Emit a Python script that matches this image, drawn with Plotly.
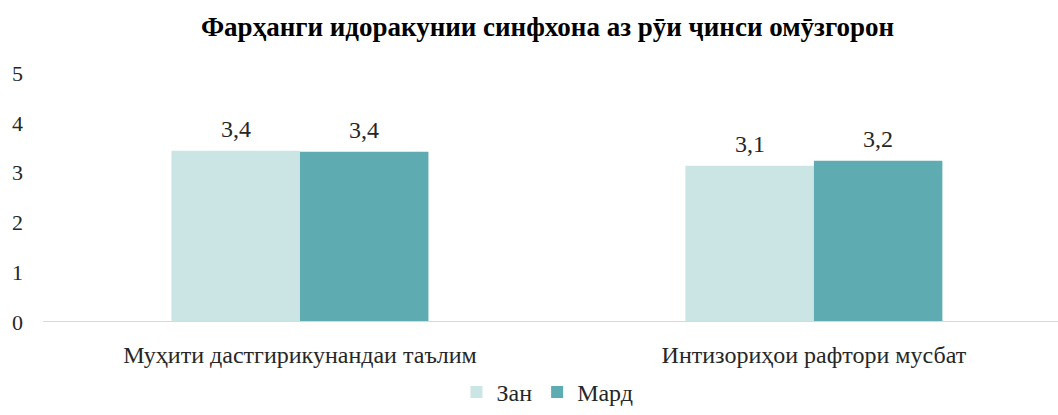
import plotly.graph_objects as go

# Categories and series values
categories = ["Муҳити дастгирикунандаи таълим", "Интизориҳои рафтори мусбат"]
series_names = ["Зан", "Мард"]
values_zan = [3.44, 3.14]
values_mard = [3.42, 3.24]
y_ticks = [0, 1, 2, 3, 4, 5]

colors = ["#cbe5e5", "#5eabb2"]
font_family = "Liberation Serif"
text_color = "#262626"
bar_w = 0.25
x_idx = list(range(len(categories)))

fig = go.Figure()
for name, vals, col, shift in [(series_names[0], values_zan, colors[0], -bar_w / 2),
                               (series_names[1], values_mard, colors[1], bar_w / 2)]:
    fig.add_trace(go.Bar(
        x=x_idx, y=vals, name=name, marker=dict(color=col, line=dict(width=0)),
        width=bar_w, offset=shift - bar_w / 2,
        hoverinfo="skip",
    ))
    # value labels above each bar, decimal comma
    for xi, v in zip(x_idx, vals):
        fig.add_annotation(
            x=xi + shift, y=v, xref="x", yref="y",
            text=f"{v:.1f}".replace(".", ","), showarrow=False,
            yanchor="bottom", yshift=7,
            font=dict(family=font_family, size=24, color=text_color),
        )

fig.update_layout(
    width=1058, height=415,
    margin=dict(l=43, r=0, t=73, b=93, autoexpand=False),
    paper_bgcolor="white", plot_bgcolor="white",
    title=dict(text="<b>Фарҳанги идоракунии синфхона аз рӯи ҷинси омӯзгорон</b>",
               x=0.5175, xanchor="center", y=0.935, yanchor="middle",
               font=dict(family=font_family, size=27, color="#000000")),
    font=dict(family=font_family, size=24, color=text_color),
    barmode="overlay",
    showlegend=True,
    legend=dict(orientation="h", x=0.497, xanchor="center",
                yref="container", y=-0.012, yanchor="bottom",
                font=dict(family=font_family, size=24, color=text_color),
                itemwidth=30, tracegroupgap=0,
                bgcolor="rgba(0,0,0,0)"),
    xaxis=dict(range=[-0.5, 1.475], tickvals=x_idx, ticktext=categories,
               showgrid=False, zeroline=False, showline=False,
               ticks="outside", ticklen=11, tickcolor="rgba(0,0,0,0)",
               tickfont=dict(family=font_family, size=24, color=text_color)),
    yaxis=dict(range=[0, 5], tickvals=y_ticks, showgrid=False, zeroline=False,
               showline=False, ticks="", ticklabelstandoff=19,
               tickfont=dict(family=font_family, size=22, color=text_color)),
    shapes=[dict(type="line", xref="paper", yref="y", x0=0, x1=1, y0=0, y1=0,
                 line=dict(color="#d9d9d9", width=2))],
)

fig.write_html("out.html")
